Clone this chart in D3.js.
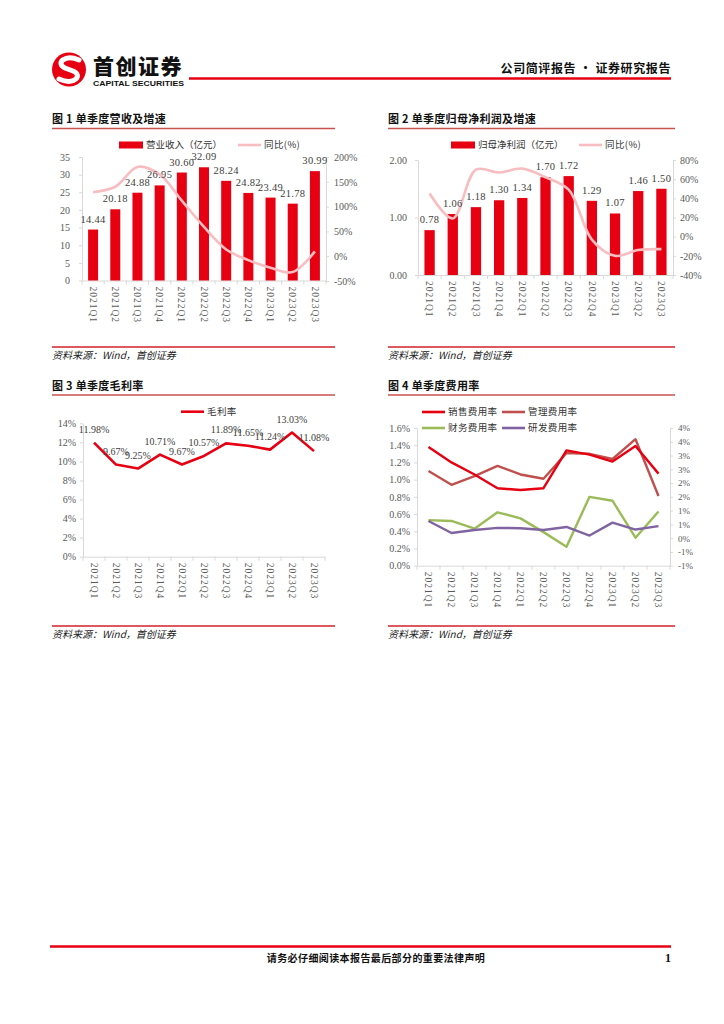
<!DOCTYPE html>
<html><head><meta charset="utf-8">
<script src="https://cdn.jsdelivr.net/npm/d3@7"></script>
<style>body{margin:0;background:#fff} svg{display:block}</style>
</head><body>
<svg id="c" width="724" height="1024"></svg>
<script>
// ---------- data ----------
const quarters = ["2021Q1","2021Q2","2021Q3","2021Q4","2022Q1","2022Q2","2022Q3","2022Q4","2023Q1","2023Q2","2023Q3"];
const revenue = [14.44,20.18,24.88,26.95,30.60,32.09,28.24,24.82,23.49,21.78,30.99];
const revenueYoY = [129,140,180,165,112,59,13.5,-7.9,-23.2,-32.1,9.7];
const revLeftTicks = [0,5,10,15,20,25,30,35];
const revRightTicks = [-50,0,50,100,150,200];

const profit = [0.78,1.06,1.18,1.30,1.34,1.70,1.72,1.29,1.07,1.46,1.50];
const profitYoY = [45,19,70,67,71,62,49,-3,-20,-14,-13];
const profitLeftTicks = [0,1,2];
const profitRightTicks = [-40,-20,0,20,40,60,80];

const grossMargin = [11.98,9.67,9.25,10.71,9.67,10.57,11.89,11.65,11.24,13.03,11.08];
const gmTicks = [0,2,4,6,8,10,12,14];

const salesRate = [1.38,1.20,1.06,0.90,0.88,0.90,1.34,1.29,1.21,1.39,1.07];
const mgmtRate  = [1.10,0.94,1.04,1.16,1.06,1.01,1.31,1.30,1.24,1.47,0.81];
const finRate   = [0.53,0.52,0.43,0.62,0.55,0.39,0.22,0.80,0.755,0.325,0.63];
const rdRate    = [0.52,0.38,0.415,0.44,0.435,0.415,0.45,0.35,0.50,0.42,0.46];
const expLeftTicks = [0,0.2,0.4,0.6,0.8,1.0,1.2,1.4,1.6];
const expRightTicks = [-1,-0.5,0,0.5,1,1.5,2,2.5,3,3.5,4];
const expRightLabels = ["-1%","-1%","0%","1%","1%","2%","2%","3%","3%","4%","4%"];

// ---------- styles ----------
const svg = d3.select("#c");
const CJK = "'Noto Sans CJK SC', sans-serif";
const SERIF = "'Liberation Serif','Times New Roman', serif";
const RED = "#E60012", PINK = "#F7BDC1", GRAY = "#D9D9D9", TXT = "#595959";
const SALES = "#E60012", MGMT = "#C0504D", FIN = "#9BBB59", RD = "#8064A2";

// ---------- header ----------
svg.append("circle").attr("cx",69).attr("cy",69.5).attr("r",17).attr("fill",RED);
svg.append("path").attr("d","M79,60 C65,54 55,63 65,68 L73,71 C83,75 75,86 59,79")
  .attr("fill","none").attr("stroke","#fff").attr("stroke-width",5).attr("stroke-linecap","round");
svg.append("text").attr("x",93).attr("y",74).text("首创证券")
  .attr("font-family",CJK).attr("font-size",21).attr("font-weight",900).attr("letter-spacing",1.5).attr("fill","#111");
svg.append("text").attr("x",93).attr("y",86).text("CAPITAL SECURITIES")
  .attr("font-family","'Liberation Sans',Arial,sans-serif").attr("font-size",7.6).attr("font-weight",700)
  .attr("textLength",91).attr("lengthAdjust","spacingAndGlyphs").attr("fill","#111");
svg.append("line").attr("x1",189).attr("x2",671).attr("y1",78.5).attr("y2",78.5).attr("stroke",RED).attr("stroke-width",2.6);
svg.append("text").attr("x",671).attr("y",73).attr("text-anchor","end").text("公司简评报告 · 证券研究报告")
  .attr("font-family",CJK).attr("font-size",12).attr("font-weight",700).attr("letter-spacing",0.6).attr("fill","#111");

// ---------- footer ----------
svg.append("line").attr("x1",50).attr("x2",671).attr("y1",946.5).attr("y2",946.5).attr("stroke",RED).attr("stroke-width",2.5);
svg.append("text").attr("x",376).attr("y",962).attr("text-anchor","middle").text("请务必仔细阅读本报告最后部分的重要法律声明")
  .attr("font-family",CJK).attr("font-size",10).attr("font-weight",700).attr("letter-spacing",0.4).attr("fill","#111");
svg.append("text").attr("x",671).attr("y",962).attr("text-anchor","end").text("1")
  .attr("font-family",SERIF).attr("font-size",12).attr("font-weight",700).attr("fill","#111");

// ---------- helpers ----------
function frame(x0, x1, titleY, title, srcY) {
  svg.append("text").attr("x",x0).attr("y",titleY).text(title)
    .attr("font-family",CJK).attr("font-size",11).attr("font-weight",700).attr("fill","#111").attr("letter-spacing",0.3);
  svg.append("line").attr("x1",x0).attr("x2",x1).attr("y1",titleY+5.5).attr("y2",titleY+5.5)
    .attr("stroke","#C9524F").attr("stroke-width",1.4);
  svg.append("line").attr("x1",x0).attr("x2",x1).attr("y1",srcY).attr("y2",srcY)
    .attr("stroke","#D3212A").attr("stroke-width",1.4);
  svg.append("text").attr("x",x0).attr("y",srcY+12).text("资料来源：Wind，首创证券")
    .attr("font-family",CJK).attr("font-size",10).attr("font-style","italic").attr("fill","#222");
}
function styleAxis(g) {
  g.select(".domain").attr("stroke",GRAY);
  g.selectAll(".tick line").attr("stroke",GRAY);
  g.selectAll(".tick text").attr("font-family",SERIF).attr("font-size",10).attr("fill",TXT);
}
function xAxis(x, y0) {
  const g = svg.append("g").attr("transform",`translate(0,${y0})`)
    .call(d3.axisBottom(x).tickSize(0).tickSizeOuter(0));
  styleAxis(g);
  g.selectAll(".tick text").attr("y",0).attr("x",6).attr("dy","0.35em")
    .attr("transform","rotate(90)").style("text-anchor","start")
    .attr("font-size",9.5).attr("letter-spacing",1);
  const bounds = x.domain().map(d=>x(d)).concat([x.range()[1]]);
  g.selectAll(".bt").data(bounds).enter().append("line").attr("class","bt")
    .attr("x1",d=>d).attr("x2",d=>d).attr("y1",0).attr("y2",4).attr("stroke",GRAY);
  return g;
}
function legendRect(x, y, label) {
  svg.append("rect").attr("x",x).attr("y",y-3.5).attr("width",24).attr("height",7).attr("fill",RED);
  svg.append("text").attr("x",x+27).attr("y",y).attr("dy","0.35em").text(label)
    .attr("font-family",CJK).attr("font-size",9.5).attr("fill","#333");
}
function legendLine(x, y, color, label) {
  svg.append("line").attr("x1",x).attr("x2",x+23).attr("y1",y).attr("y2",y).attr("stroke",color).attr("stroke-width",2.6);
  svg.append("text").attr("x",x+26).attr("y",y).attr("dy","0.35em").text(label)
    .attr("font-family",CJK).attr("font-size",9.5).attr("fill","#333").attr("letter-spacing",0.4);
}

// ---------- chart 1 ----------
frame(52, 335, 123, "图 1 单季度营收及增速", 347);
{
  const x = d3.scaleBand().domain(quarters).range([82,326]).padding(0);
  const y = d3.scaleLinear().domain([0,35]).range([280.5,157]);
  const yR = d3.scaleLinear().domain([-50,200]).range([281,157]);
  const gl = svg.append("g").attr("transform","translate(82,0)")
    .call(d3.axisLeft(y).tickValues(revLeftTicks).tickSize(3).tickSizeOuter(0).tickPadding(9));
  styleAxis(gl);
  const gr = svg.append("g").attr("transform","translate(326,0)")
    .call(d3.axisRight(yR).tickValues(revRightTicks).tickFormat(d=>d+"%").tickSize(3).tickSizeOuter(0).tickPadding(5));
  styleAxis(gr);
  xAxis(x, 280.5);
  const bw = 10;
  svg.selectAll(".b1").data(revenue).enter().append("rect")
    .attr("x",(d,i)=>x(quarters[i])+x.bandwidth()/2-bw/2).attr("width",bw)
    .attr("y",d=>y(d)).attr("height",d=>y(0)-y(d)).attr("fill",RED);
  const line = d3.line().x((d,i)=>x(quarters[i])+x.bandwidth()/2).y(d=>yR(d)).curve(d3.curveCatmullRom.alpha(0.5));
  svg.append("path").datum(revenueYoY).attr("d",line).attr("fill","none").attr("stroke",PINK).attr("stroke-width",2.6);
  svg.selectAll(".l1").data(revenue).enter().append("text")
    .attr("x",(d,i)=>x(quarters[i])+x.bandwidth()/2).attr("y",d=>y(d)-7)
    .attr("text-anchor","middle").text(d=>d3.format(".2f")(d))
    .attr("font-family",SERIF).attr("font-size",10.5).attr("letter-spacing",0.3).attr("fill","#404040");
  legendRect(119, 145, "营业收入（亿元）");
  legendLine(238, 145, PINK, "同比(%)");
}

// ---------- chart 2 ----------
frame(388, 675, 123, "图 2 单季度归母净利润及增速", 347);
{
  const x = d3.scaleBand().domain(quarters).range([418,673]).padding(0);
  const y = d3.scaleLinear().domain([0,2]).range([275,160]);
  const yR = d3.scaleLinear().domain([-40,80]).range([275,160]);
  const gl = svg.append("g").attr("transform","translate(418,0)")
    .call(d3.axisLeft(y).tickValues(profitLeftTicks).tickFormat(d3.format(".2f")).tickSize(3).tickSizeOuter(0).tickPadding(8));
  styleAxis(gl);
  const gr = svg.append("g").attr("transform","translate(673,0)")
    .call(d3.axisRight(yR).tickValues(profitRightTicks).tickFormat(d=>d+"%").tickSize(3).tickSizeOuter(0).tickPadding(4));
  styleAxis(gr);
  xAxis(x, 275);
  const bw = 10.3;
  svg.selectAll(".b2").data(profit).enter().append("rect")
    .attr("x",(d,i)=>x(quarters[i])+x.bandwidth()/2-bw/2).attr("width",bw)
    .attr("y",d=>y(d)).attr("height",d=>y(0)-y(d)).attr("fill",RED);
  const line = d3.line().x((d,i)=>x(quarters[i])+x.bandwidth()/2).y(d=>yR(d)).curve(d3.curveCatmullRom.alpha(0.5));
  svg.append("path").datum(profitYoY).attr("d",line).attr("fill","none").attr("stroke",PINK).attr("stroke-width",2.6);
  svg.selectAll(".l2").data(profit).enter().append("text")
    .attr("x",(d,i)=>x(quarters[i])+x.bandwidth()/2).attr("y",d=>y(d)-7)
    .attr("text-anchor","middle").text(d=>d3.format(".2f")(d))
    .attr("font-family",SERIF).attr("font-size",10.5).attr("letter-spacing",0.3).attr("fill","#404040");
  legendRect(451, 145, "归母净利润（亿元）");
  legendLine(579, 145, PINK, "同比(%)");
}

// ---------- chart 3 ----------
frame(52, 335, 389.5, "图 3 单季度毛利率", 626);
{
  const x = d3.scaleBand().domain(quarters).range([83,325]).padding(0);
  const y = d3.scaleLinear().domain([0,14]).range([556.7,423.3]);
  const gl = svg.append("g").attr("transform","translate(83,0)")
    .call(d3.axisLeft(y).tickValues(gmTicks).tickFormat(d=>d+"%").tickSize(3).tickSizeOuter(0).tickPadding(4));
  styleAxis(gl);
  xAxis(x, 556.7);
  const line = d3.line().x((d,i)=>x(quarters[i])+x.bandwidth()/2).y(d=>y(d));
  svg.append("path").datum(grossMargin).attr("d",line).attr("fill","none").attr("stroke",RED).attr("stroke-width",2.6).attr("stroke-linejoin","round");
  svg.selectAll(".l3").data(grossMargin).enter().append("text")
    .attr("x",(d,i)=>x(quarters[i])+x.bandwidth()/2).attr("y",d=>y(d)-10)
    .attr("text-anchor","middle").text(d=>d3.format(".2f")(d)+"%")
    .attr("font-family",SERIF).attr("font-size",10).attr("fill","#404040");
  legendLine(181, 411.7, RED, "毛利率");
}

// ---------- chart 4 ----------
frame(388, 675, 389.5, "图 4 单季度费用率", 626);
{
  const x = d3.scaleBand().domain(quarters).range([417,670]).padding(0);
  const y = d3.scaleLinear().domain([0,1.6]).range([565.7,428]);
  const yR = d3.scaleLinear().domain([-1,4]).range([565.7,428]);
  const gl = svg.append("g").attr("transform","translate(417,0)")
    .call(d3.axisLeft(y).tickValues(expLeftTicks).tickFormat(d=>d3.format(".1f")(d)+"%").tickSize(3).tickSizeOuter(0).tickPadding(4));
  styleAxis(gl);
  const gr = svg.append("g").attr("transform","translate(670,0)")
    .call(d3.axisRight(yR).tickValues(expRightTicks).tickFormat((d,i)=>expRightLabels[i]).tickSize(3).tickSizeOuter(0).tickPadding(5));
  styleAxis(gr);
  gr.selectAll(".tick text").attr("font-size",9);
  xAxis(x, 565.7);
  const line = d3.line().x((d,i)=>x(quarters[i])+x.bandwidth()/2).y(d=>y(d));
  [[finRate,FIN],[rdRate,RD],[mgmtRate,MGMT],[salesRate,SALES]].forEach(([s,c])=>{
    svg.append("path").datum(s).attr("d",line).attr("fill","none").attr("stroke",c).attr("stroke-width",2.4).attr("stroke-linejoin","round");
  });
  legendLine(422, 412, SALES, "销售费用率");
  legendLine(502, 412, MGMT, "管理费用率");
  legendLine(422, 428, FIN, "财务费用率");
  legendLine(502, 428, RD, "研发费用率");
}
</script>
</body></html>
